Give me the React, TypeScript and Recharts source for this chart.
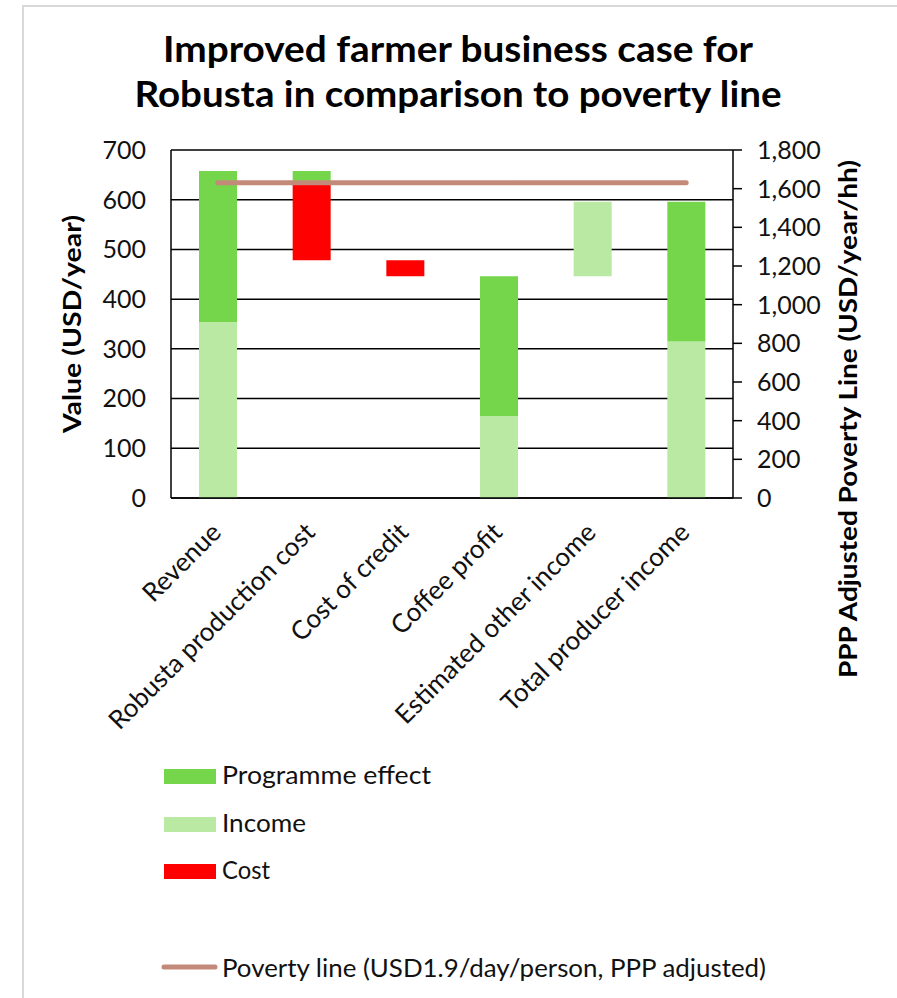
import {
  Bar,
  CartesianGrid,
  ComposedChart,
  Line,
  XAxis,
  YAxis,
} from "recharts";

const categories = [
  "Revenue",
  "Robusta production cost",
  "Cost of credit",
  "Coffee profit",
  "Estimated other income",
  "Total producer income",
];

// invisible offset that lifts the floating waterfall steps
const baseValues = [0, 478, 446, 0, 446, 0];
const incomeValues = [354, 0, 0, 165, 150, 315];
const costValues = [0, 157, 32, 0, 0, 0];
const effectValues = [304, 23, 0, 281, 0, 281];
const povertyLine = [1630, 1630, 1630, 1630, 1630, 1630];

const leftTicks = [0, 100, 200, 300, 400, 500, 600, 700];
const rightTicks = [0, 200, 400, 600, 800, 1000, 1200, 1400, 1600, 1800];

const GREEN = "#75D54B";
const LIGHT_GREEN = "#B9E9A2";
const RED = "#FF0000";
const POVERTY = "#C48A79";
const FONT = "Lato, 'DejaVu Sans', sans-serif";

const data = categories.map((name, i) => ({
  name,
  base: baseValues[i],
  income: incomeValues[i],
  cost: costValues[i],
  effect: effectValues[i],
  poverty: povertyLine[i],
}));

function CategoryTick({ x, y, payload }: any) {
  return (
    <g transform={`translate(${x + 5},${y + 36})`}>
      <text
        transform="rotate(-45)"
        textAnchor="end"
        fontFamily={FONT}
        fontSize={26}
        fill="#111"
      >
        {payload.value}
      </text>
    </g>
  );
}

const legendBars = [
  { label: "Programme effect", color: GREEN, y: 769, base: 784, len: 209 },
  { label: "Income", color: LIGHT_GREEN, y: 817, base: 832, len: 84 },
  { label: "Cost", color: RED, y: 864, base: 879, len: 48 },
];

export default function App() {
  return (
    <div
      style={{
        position: "absolute",
        left: 0,
        top: 0,
        width: 897,
        height: 998,
        background: "#fff",
        overflow: "hidden",
      }}
    >
      <div
        style={{
          position: "absolute",
          left: 22,
          top: 5,
          width: 880,
          height: 1100,
          border: "2px solid #d9d9d9",
          boxSizing: "border-box",
        }}
      />
      <div style={{ position: "absolute", left: 0, top: 0 }}>
        <ComposedChart
          width={897}
          height={760}
          data={data}
          margin={{ top: 150, right: 0, bottom: 0, left: 0 }}
          barCategoryGap={0}
        >
          <CartesianGrid
            yAxisId="left"
            vertical={false}
            stroke="#000"
            strokeWidth={1.5}
          />
          <XAxis
            dataKey="name"
            interval={0}
            height={262}
            tickLine={false}
            tickSize={0}
            tickMargin={0}
            axisLine={{ stroke: "#000", strokeWidth: 1.5 }}
            tick={<CategoryTick />}
          />
          <YAxis
            yAxisId="left"
            domain={[0, 700]}
            ticks={leftTicks}
            width={171}
            tickLine={false}
            tickSize={0}
            tickMargin={25}
            axisLine={{ stroke: "#000", strokeWidth: 1.5 }}
            tick={{ fontFamily: FONT, fontSize: 25, fill: "#111" }}
          />
          <YAxis
            yAxisId="right"
            orientation="right"
            domain={[0, 1800]}
            ticks={rightTicks}
            width={164}
            tickSize={9}
            tickMargin={15}
            tickLine={{ stroke: "#000", strokeWidth: 1.5 }}
            axisLine={{ stroke: "#000", strokeWidth: 1.5 }}
            tickFormatter={(v: number) => v.toLocaleString("en-US")}
            tick={{ fontFamily: FONT, fontSize: 25, fill: "#111" }}
          />
          <Bar
            yAxisId="left"
            dataKey="base"
            stackId="w"
            fill="transparent"
            barSize={38}
            isAnimationActive={false}
          />
          <Bar
            yAxisId="left"
            dataKey="income"
            stackId="w"
            fill={LIGHT_GREEN}
            barSize={38}
            isAnimationActive={false}
          />
          <Bar
            yAxisId="left"
            dataKey="cost"
            stackId="w"
            fill={RED}
            barSize={38}
            isAnimationActive={false}
          />
          <Bar
            yAxisId="left"
            dataKey="effect"
            stackId="w"
            fill={GREEN}
            barSize={38}
            isAnimationActive={false}
          />
          <Line
            yAxisId="right"
            dataKey="poverty"
            stroke={POVERTY}
            strokeWidth={5}
            strokeLinecap="round"
            dot={false}
            activeDot={false}
            isAnimationActive={false}
          />
        </ComposedChart>
      </div>
      <svg
        width={897}
        height={998}
        style={{ position: "absolute", left: 0, top: 0, pointerEvents: "none" }}
      >
        <g fontFamily={FONT} fontWeight={700} fill="#000" textAnchor="middle">
          <text x={458} y={62} fontSize={37} textLength={590} lengthAdjust="spacingAndGlyphs">
            Improved farmer business case for
          </text>
          <text x={458} y={107} fontSize={37} textLength={647} lengthAdjust="spacingAndGlyphs">
            Robusta in comparison to poverty line
          </text>
          <text
            x={81}
            y={324}
            fontSize={24}
            textLength={218}
            lengthAdjust="spacingAndGlyphs"
            transform="rotate(-90, 81, 324)"
          >
            Value (USD/year)
          </text>
          <text
            x={857}
            y={419}
            fontSize={24}
            textLength={518}
            lengthAdjust="spacingAndGlyphs"
            transform="rotate(-90, 857, 419)"
          >
            PPP Adjusted Poverty Line (USD/year/hh)
          </text>
        </g>
        <g fontFamily={FONT} fontSize={25} fill="#111">
          {legendBars.map((item) => (
            <g key={item.label}>
              <rect x={164} y={item.y} width={52} height={15} fill={item.color} />
              <text x={222} y={item.base} textLength={item.len} lengthAdjust="spacingAndGlyphs">
                {item.label}
              </text>
            </g>
          ))}
          <line
            x1={164}
            y1={967}
            x2={215}
            y2={967}
            stroke={POVERTY}
            strokeWidth={5}
            strokeLinecap="round"
          />
          <text x={222} y={977} textLength={544} lengthAdjust="spacingAndGlyphs">
            Poverty line (USD1.9/day/person, PPP adjusted)
          </text>
        </g>
      </svg>
    </div>
  );
}
